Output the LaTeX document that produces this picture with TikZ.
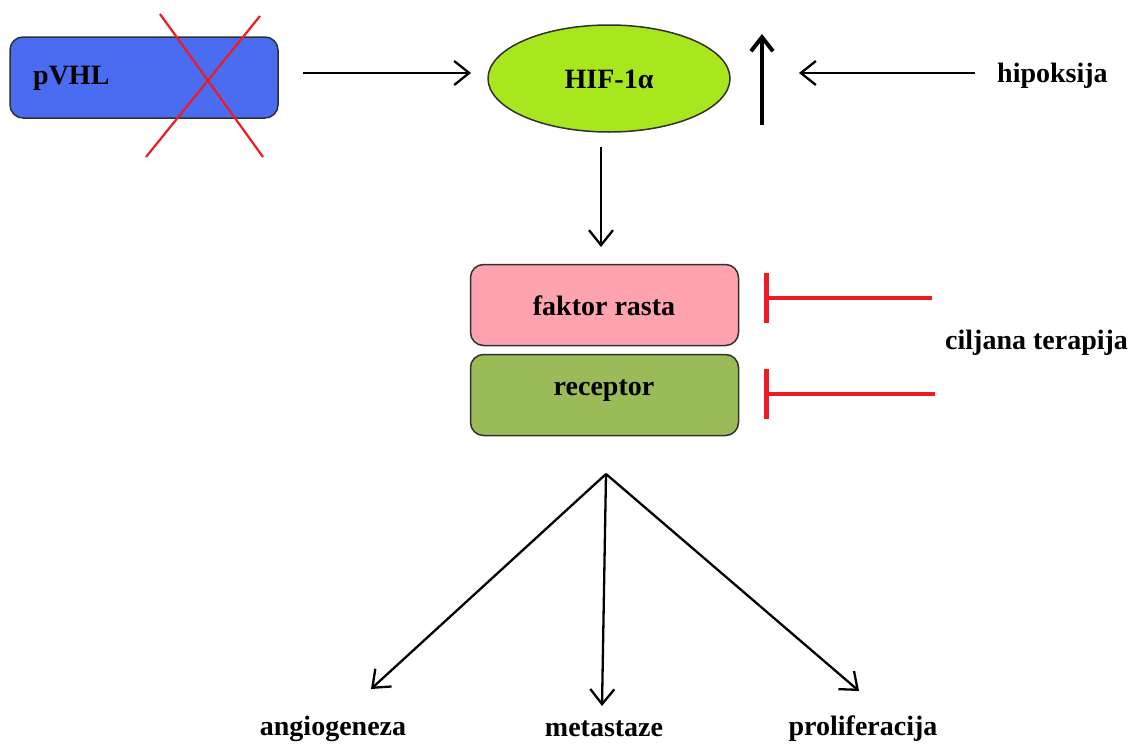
\documentclass[tikz,border=0pt]{standalone}
\usepackage{fontspec}
\setmainfont{Liberation Serif}
\usetikzlibrary{arrows.meta,shapes.geometric}
\definecolor{vhlblue}{HTML}{4A6CF0}
\definecolor{hiflime}{HTML}{A8E61D}
\definecolor{fpink}{HTML}{FFA3AF}
\definecolor{rgreen}{HTML}{9BBB59}
\definecolor{xred}{HTML}{ED1C24}
\definecolor{edgegray}{HTML}{303030}
\tikzset{
  box/.style={draw=edgegray,line width=1.5pt,rounded corners=13pt,minimum width=268pt,minimum height=81pt,inner sep=0pt},
  lbl/.style={font=\fontsize{28}{32}\selectfont\bfseries,inner sep=0pt},
  arr/.style={line width=2.3pt,-{Straight Barb[length=15pt,width=24pt,line width=2.3pt]}},
  thickarr/.style={line width=4pt,-{Straight Barb[length=14pt,width=22pt,line width=4pt]}},
  inhib/.style={draw=xred,line width=4.5pt,-{Bar[width=50pt,line width=4.5pt]}},
  cross/.style={draw=xred,line width=2.2pt}
}
\begin{document}
\begin{tikzpicture}[x=1pt,y=-1pt]
\useasboundingbox (0,0) rectangle (1137,744);
% nodes
\node[box,fill=vhlblue] (vhl) at (144,77.5) {};
\node[lbl,anchor=west] (vhlt) at (33,78) {pVHL};
\node[draw=edgegray,line width=1.5pt,fill=hiflime,ellipse,minimum width=242pt,minimum height=107pt,inner sep=0pt] (hif) at (609,78.5) {};
\node[lbl] (hift) at (609,79) {HIF-1α};
\node[box,fill=fpink] (fr) at (604.5,305) {};
\node[lbl] (frt) at (604,306) {faktor rasta};
\node[box,fill=rgreen] (rc) at (604.5,395) {};
\node[lbl] (rct) at (604,391) {receptor};
\node[lbl,anchor=west] (hip) at (997,76) {hipoksija};
\node[lbl,anchor=west] (cil) at (945,343) {ciljana terapija};
\node[lbl] (ang) at (333,729) {angiogeneza};
\node[lbl] (met) at (604,729) {metastaze};
\node[lbl] (pro) at (863,729) {proliferacija};
% coordinates
\coordinate (a1) at (303,73);
\coordinate (a2) at (471,73);
\coordinate (h1) at (975,73);
\coordinate (h2) at (799,73);
\coordinate (u1) at (762,125);
\coordinate (u2) at (762,34);
\coordinate (d1) at (601,147);
\coordinate (d2) at (601,247);
\coordinate (t1s) at (932,298);
\coordinate (t1e) at (764,298);
\coordinate (t2s) at (935,394);
\coordinate (t2e) at (764,394);
\coordinate (o) at (606,474);
\coordinate (e1) at (371,689);
\coordinate (e2) at (602,706);
\coordinate (e3) at (859,691);
\coordinate (x1a) at (160,14);
\coordinate (x1b) at (263,157);
\coordinate (x2a) at (260,16);
\coordinate (x2b) at (146,157);
% connectors
\draw[arr] (a1) -- (a2);
\draw[arr] (h1) -- (h2);
\draw[thickarr] (u1) -- (u2);
\draw[arr] (d1) -- (d2);
\draw[inhib] (t1s) -- (t1e);
\draw[inhib] (t2s) -- (t2e);
\draw[arr] (o) -- (e1);
\draw[arr] (o) -- (e2);
\draw[arr] (o) -- (e3);
\draw[cross] (x1a) -- (x1b);
\draw[cross] (x2a) -- (x2b);
\end{tikzpicture}
\end{document}
